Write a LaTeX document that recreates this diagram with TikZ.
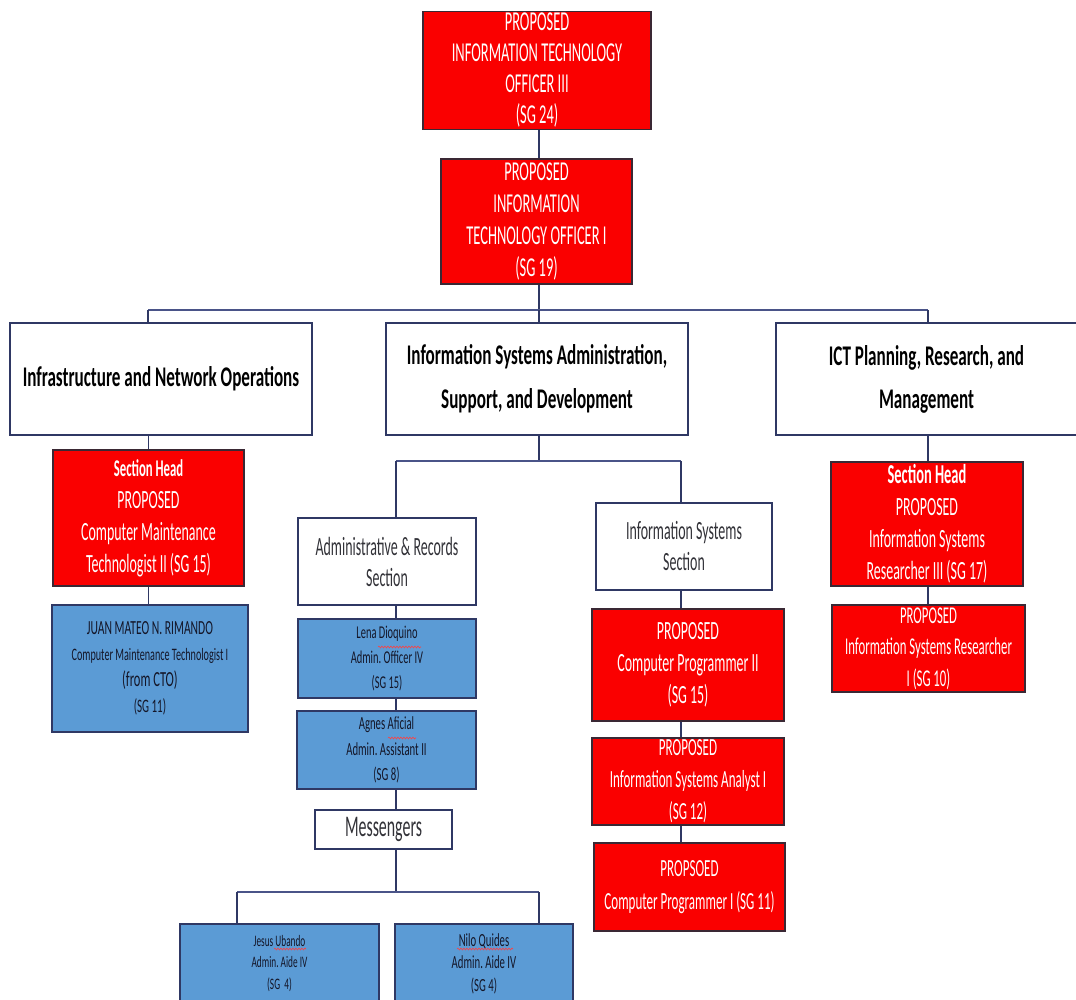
\documentclass[tikz,border=0pt]{standalone}
\usepackage{fontspec}
\setmainfont{Carlito}[FakeStretch=0.58]
\newfontfamily\rf{Carlito}[FakeStretch=0.53]
\newfontfamily\hf{Carlito}[FakeStretch=0.6]
\usetikzlibrary{decorations.pathmorphing}
\frenchspacing
\definecolor{pred}{RGB}{250,0,0}
\definecolor{pblue}{RGB}{91,155,213}
\definecolor{navy}{RGB}{47,56,100}
\definecolor{busc}{RGB}{74,84,136}
\definecolor{redline}{RGB}{58,40,52}
\definecolor{bluetext}{RGB}{20,22,40}
\definecolor{secttext}{RGB}{50,50,56}
\newcommand{\fs}[2]{\fontsize{#1}{#2}\selectfont}
\tikzset{
  sz/.style 2 args={minimum width=#1pt, minimum height=#2pt},
  box/.style={draw=navy, line width=1.3pt, inner sep=0pt, align=center, anchor=center},
  redbox/.style={box, fill=pred, draw=redline, text=white},
  bluebox/.style={box, fill=pblue, text=bluetext},
  whitebox/.style={box, fill=white, text=black},
  link/.style={draw=navy, line width=1.1pt},
  busline/.style={draw=busc, line width=2.3pt},
  squig/.style={draw=red!75!white, line width=0.6pt, decorate,
    decoration={snake, amplitude=0.9pt, segment length=3pt}}
}
\begin{document}
\begin{tikzpicture}[x=1pt,y=-1pt]
\useasboundingbox (0,0) rectangle (1076,1000);
\fill[white] (0,0) rectangle (1076,1000);

% top of the hierarchy
\node[redbox, sz={228}{118}, font=\rf\fs{27.3}{31}] (ito3) at (537,70.5)
  {PROPOSED\\INFORMATION TECHNOLOGY\\OFFICER III\\(SG 24)};
\node[redbox, sz={191}{125}, font=\rf\fs{27.3}{32}] (ito1) at (536.5,221.5)
  {PROPOSED\\INFORMATION\\TECHNOLOGY OFFICER I\\(SG 19)};

% divisions
\node[whitebox, sz={302}{112}, font=\hf\bfseries\fs{28.5}{44}] (infra) at (161,379)
  {Infrastructure and Network Operations};
\node[whitebox, sz={302}{112}, font=\hf\bfseries\fs{28.5}{44}] (isad) at (537,379)
  {Information Systems Administration,\\Support, and Development};
\node[whitebox, sz={301}{112}, font=\hf\bfseries\fs{28.5}{43}] (ictp) at (926.5,379)
  {ICT Planning, Research, and\\Management};

% infrastructure branch
\node[redbox, sz={191}{136}, font=\rf\fs{26.3}{32}] (secA) at (148.5,518)
  {{\bfseries\fs{24}{32}Section Head}\\PROPOSED\\Computer Maintenance\\Technologist II (SG 15)};
\node[bluebox, sz={196}{127}, font=\fs{19}{26}] (juan) at (150,668.5)
  {{\fs{20}{26}JUAN MATEO N. RIMANDO}\\{\fs{17.5}{26}Computer Maintenance Technologist I}\\{\fs{21.5}{26}(from CTO)}\\(SG 11)};

% administration branch
\node[whitebox, sz={178}{87}, font=\rf\fs{26.3}{31}, text=secttext] (adm) at (387,561.5)
  {Administrative \& Records\\Section};
\node[bluebox, sz={178}{79}, font=\fs{18}{25}] (lena) at (387,658.5)
  {Lena Dioquino\\Admin. Officer IV\\(SG 15)};
\node[bluebox, sz={179}{78}, font=\fs{18.5}{25.5}] (agnes) at (386.5,750)
  {Agnes Aficial\\Admin. Assistant II\\(SG 8)};
\node[whitebox, sz={137}{39}, font=\rf\fs{30}{30}, text=secttext] (mess) at (383.5,829.5)
  {Messengers};
\node[bluebox, sz={199}{79}, font=\fs{16}{21.5}] (jesus) at (279.5,963.5)
  {Jesus Ubando\\Admin. Aide IV\\(SG~~4)};
\node[bluebox, sz={178}{79}, font=\fs{18.5}{22.5}] (nilo) at (484,963.5)
  {Nilo Quides\\Admin. Aide IV\\(SG 4)};

% information systems branch
\node[whitebox, sz={176}{87}, font=\rf\fs{26.3}{31}, text=secttext] (iss) at (684,546.5)
  {Information Systems\\Section};
\node[redbox, sz={192}{112}, font=\rf\fs{26.3}{32}] (cp2) at (688,665)
  {PROPOSED\\Computer Programmer II\\(SG 15)};
\node[redbox, sz={192}{87}, font=\rf\fs{24.6}{32}] (isa) at (688,781.5)
  {PROPOSED\\Information Systems Analyst I\\(SG 12)};
\node[redbox, sz={191}{88}, font=\rf\fs{24.6}{33}] (cp1) at (689.5,887)
  {PROPSOED\\Computer Programmer I (SG 11)};

% planning branch
\node[redbox, sz={192}{124}, font=\rf\fs{26.3}{32}] (secC) at (927,524)
  {{\bfseries\fs{27.3}{32}Section Head}\\PROPOSED\\Information Systems\\Researcher III (SG 17)};
\node[redbox, sz={193}{87}, font=\rf\fs{24.1}{31.5}] (isr) at (928.5,648.5)
  {PROPOSED\\Information Systems Researcher\\I (SG 10)};

% bus points
\coordinate (b1)  at (539,310);
\coordinate (b1l) at (148,310);
\coordinate (b1r) at (928,310);
\coordinate (b2)  at (539,461);
\coordinate (b2l) at (396,461);
\coordinate (b2r) at (681,461);
\coordinate (b3)  at (396,892);
\coordinate (b3l) at (237,892);
\coordinate (b3r) at (539,892);

% connectors
\draw[link] (ito3.south -| b1) -- (ito1.north -| b1);
\draw[link] (ito1.south -| b1) -- (b1);
\draw[busline] (b1l) -- (b1r);
\draw[link] (b1l) -- (b1l |- infra.north);
\draw[link] (b1) -- (b1 |- isad.north);
\draw[link] (b1r) -- (b1r |- ictp.north);

\draw[link] (infra.south -| secA.north) -- (secA.north);
\draw[link] (secA.south) -- (secA.south |- juan.north);

\draw[link] (isad.south -| b2) -- (b2);
\draw[busline] (b2l) -- (b2r);
\draw[link] (b2l) -- (b2l |- adm.north);
\draw[link] (adm.south -| b2l) -- (lena.north -| b2l);
\draw[link] (lena.south -| b2l) -- (agnes.north -| b2l);
\draw[link] (agnes.south -| b2l) -- (mess.north -| b2l);
\draw[link] (mess.south -| b3) -- (b3);
\draw[busline] (b3l) -- (b3r);
\draw[link] (b3l) -- (b3l |- jesus.north);
\draw[link] (b3r) -- (b3r |- nilo.north);

\draw[link] (b2r) -- (b2r |- iss.north);
\draw[link] (iss.south -| b2r) -- (cp2.north -| b2r);
\draw[link] (cp2.south -| b2r) -- (isa.north -| b2r);
\draw[link] (isa.south -| b2r) -- (cp1.north -| b2r);

\draw[link] (ictp.south -| b1r) -- (secC.north -| b1r);
\draw[link] (secC.south -| b1r) -- (isr.north -| b1r);

% spell-check marks under names
\draw[squig] (378,647) -- (421,647);
\draw[squig] (388,738) -- (416,738);
\draw[squig] (274,949) -- (306,949);
\draw[squig] (457,949) -- (513,949);
\end{tikzpicture}
\end{document}
